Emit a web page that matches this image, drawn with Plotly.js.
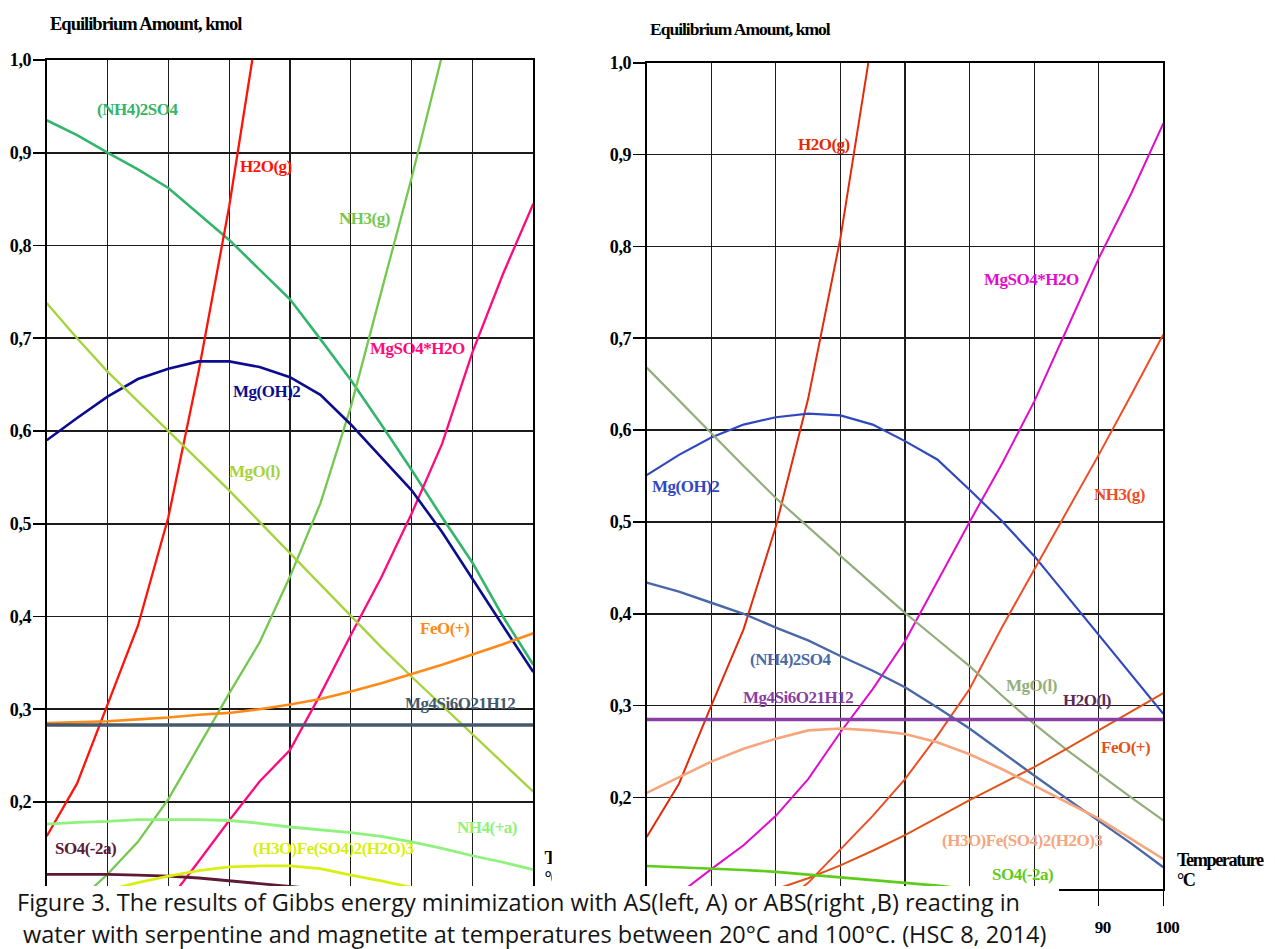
<!DOCTYPE html>
<html>
<head>
<meta charset="utf-8">
<script src="https://cdn.plot.ly/plotly-3.0.1.min.js"></script>
<style>
html, body { margin: 0; padding: 0; background: #ffffff; }
#chart { width: 1275px; height: 949px; }
text[style*="font-size: 17px"] { letter-spacing: -0.5px; }
text[style*="font-size: 18.5px"], text[style*="font-size: 17.5px"] { letter-spacing: -1px; }
text[style*="font-size: 18.2px"] { letter-spacing: -1.4px; }
text[style*="font-size: 18px"] { letter-spacing: -0.4px; }
</style>
</head>
<body>
<div id="chart"></div>
<script>
// ---------------- DATA ----------------
const temperature = [20, 25, 30, 35, 40, 45, 50, 55, 60, 65, 70, 75, 80, 85, 90, 95, 100];
const yTickVals = [0.1, 0.2, 0.3, 0.4, 0.5, 0.6, 0.7, 0.8, 0.9, 1.0];
const yTickText = ["", "0,2", "0,3", "0,4", "0,5", "0,6", "0,7", "0,8", "0,9", "1,0"];
const xTickVals = [20, 30, 40, 50, 60, 70, 80, 90, 100];
const xTickText = ["", "", "", "", "", "", "", "90", "100"];

// Left panel (A: AS)
const aNH42SO4 = [0.935, 0.919, 0.900, 0.882, 0.862, 0.834, 0.806, 0.774, 0.742, 0.699, 0.655, 0.607, 0.558, 0.507, 0.458, 0.400, 0.348];
const aH2Og    = [0.163, 0.220, 0.305, 0.390, 0.507, 0.665, 0.842, 1.050, null, null, null, null, null, null, null, null, null];
const aNH3g    = [0.070, 0.092, 0.122, 0.157, 0.203, 0.260, 0.317, 0.372, 0.443, 0.522, 0.626, 0.750, 0.873, 1.005, null, null, null];
const aMgSO4H2O= [null, null, null, 0.070, 0.093, 0.136, 0.180, 0.222, 0.256, 0.316, 0.380, 0.442, 0.511, 0.586, 0.685, 0.769, 0.845];
const aMgOH2   = [0.590, 0.614, 0.637, 0.656, 0.667, 0.675, 0.675, 0.669, 0.658, 0.639, 0.607, 0.572, 0.536, 0.491, 0.440, 0.390, 0.340];
const aMgO     = [0.738, 0.700, 0.664, 0.632, 0.600, 0.568, 0.536, 0.502, 0.468, 0.434, 0.400, 0.367, 0.335, 0.304, 0.273, 0.242, 0.211];
const aFeO     = [0.285, 0.286, 0.287, 0.289, 0.291, 0.294, 0.296, 0.300, 0.305, 0.311, 0.319, 0.328, 0.338, 0.348, 0.359, 0.370, 0.382];
const aMg4Si   = [0.283, 0.283, 0.283, 0.283, 0.283, 0.283, 0.283, 0.283, 0.283, 0.283, 0.283, 0.283, 0.283, 0.283, 0.283, 0.283, 0.283];
const aNH4     = [0.176, 0.178, 0.179, 0.181, 0.181, 0.181, 0.180, 0.177, 0.173, 0.170, 0.167, 0.163, 0.157, 0.150, 0.142, 0.135, 0.127];
const aSO4     = [0.122, 0.122, 0.122, 0.121, 0.120, 0.118, 0.115, 0.112, 0.109, 0.106, 0.103, 0.100, 0.097, 0.094, 0.090, 0.087, 0.083];
const aH3OFe   = [0.085, 0.095, 0.105, 0.113, 0.120, 0.126, 0.130, 0.131, 0.131, 0.128, 0.121, 0.115, 0.108, 0.100, 0.092, 0.085, 0.078];

// Right panel (B: ABS)
const bH2Og    = [0.157, 0.215, 0.300, 0.383, 0.495, 0.634, 0.809, 1.030, null, null, null, null, null, null, null, null, null];
const bMgSO4H2O= [0.075, 0.095, 0.122, 0.148, 0.180, 0.220, 0.271, 0.318, 0.370, 0.435, 0.500, 0.563, 0.631, 0.709, 0.787, 0.857, 0.934];
const bMgOH2   = [0.551, 0.573, 0.592, 0.606, 0.614, 0.618, 0.616, 0.606, 0.588, 0.568, 0.535, 0.501, 0.463, 0.420, 0.376, 0.333, 0.291];
const bNH3g    = [null, null, null, 0.060, 0.080, 0.107, 0.143, 0.180, 0.220, 0.267, 0.318, 0.385, 0.448, 0.510, 0.573, 0.638, 0.704];
const bNH42SO4 = [0.434, 0.424, 0.412, 0.400, 0.385, 0.371, 0.354, 0.338, 0.320, 0.298, 0.275, 0.249, 0.224, 0.199, 0.175, 0.150, 0.124];
const bMgO     = [0.668, 0.632, 0.597, 0.561, 0.526, 0.494, 0.463, 0.432, 0.401, 0.372, 0.343, 0.311, 0.280, 0.252, 0.226, 0.200, 0.175];
const bFeO     = [null, null, null, 0.085, 0.100, 0.112, 0.126, 0.142, 0.159, 0.178, 0.197, 0.215, 0.233, 0.253, 0.273, 0.293, 0.3135];
const bMg4Si   = [0.2848, 0.2848, 0.2848, 0.2848, 0.2848, 0.2848, 0.2848, 0.2848, 0.2848, 0.2848, 0.2848, 0.2848, 0.2848, 0.2848, 0.2848, 0.2848, 0.2848];
const bH3OFe   = [0.205, 0.222, 0.239, 0.253, 0.264, 0.273, 0.275, 0.273, 0.269, 0.260, 0.247, 0.231, 0.213, 0.195, 0.177, 0.155, 0.133];
const bSO4     = [0.1254, 0.124, 0.123, 0.121, 0.119, 0.116, 0.1135, 0.110, 0.107, 0.104, 0.100, 0.097, 0.093, 0.090, 0.087, 0.084, 0.080];

const yTitle = "Equilibrium Amount, kmol";
const xTitle = "Temperature";
const xUnit = "°C";
const captionLine1 = "Figure 3. The results of Gibbs energy minimization with AS(left, A) or ABS(right ,B) reacting in";
const captionLine2 = " water with serpentine and magnetite at temperatures between 20°C and 100°C. (HSC 8, 2014)";

// ---------------- STYLE ----------------
const W = 1275, H = 949;
const px = v => v / W;
const py = v => 1 - v / H;
const serif = "Liberation Serif, Times New Roman, serif";

// [name, values, color, width, panel, label left px, label center py]
const series = [
  ["(NH4)2SO4", aNH42SO4, "#33b56c", 2.6, "A", 97, 109],
  ["H2O(g)", aH2Og, "#ff1208", 2.3, "A", 240, 166.7],
  ["NH3(g)", aNH3g, "#74c850", 2.3, "A", 339, 218.3],
  ["MgSO4*H2O", aMgSO4H2O, "#ff0a7c", 2.3, "A", 370, 348.3],
  ["Mg(OH)2", aMgOH2, "#0c0c8e", 2.6, "A", 233, 391.7],
  ["MgO(l)", aMgO, "#a6d23c", 2.3, "A", 229, 471.7],
  ["FeO(+)", aFeO, "#ff8a18", 2.6, "A", 420, 628.3],
  ["Mg4Si6O21H12", aMg4Si, "#44596c", 3.4, "A", 405, 703.8],
  ["NH4(+a)", aNH4, "#8ef27c", 2.8, "A", 457, 827.5],
  ["SO4(-2a)", aSO4, "#5c1a34", 2.8, "A", 55, 848.3],
  ["(H3O)Fe(SO4)2(H2O)3", aH3OFe, "#d8f010", 2.8, "A", 253, 848.3],

  ["H2O(g)", bH2Og, "#e42a08", 2.0, "B", 798, 144.2],
  ["MgSO4*H2O", bMgSO4H2O, "#e20ccc", 2.0, "B", 983.5, 280],
  ["Mg(OH)2", bMgOH2, "#2f48c0", 2.2, "B", 652.2, 486.7],
  ["NH3(g)", bNH3g, "#f04c26", 2.0, "B", 1094.4, 495],
  ["(NH4)2SO4", bNH42SO4, "#4a68a8", 2.4, "B", 750.2, 659.2],
  ["MgO(l)", bMgO, "#93ae7c", 2.2, "B", 1005.7, 685],
  ["FeO(+)", bFeO, "#e0541a", 2.0, "B", 1100.5, 747.5],
  ["Mg4Si6O21H12", bMg4Si, "#8a40a2", 3.4, "B", 743.3, 697.5],
  ["(H3O)Fe(SO4)2(H2O)3", bH3OFe, "#f5a67c", 2.6, "B", 941.7, 840.8],
  ["SO4(-2a)", bSO4, "#5ecc1a", 2.6, "B", 991.5, 874.2]
];
const extraLabels = [["H2O(l)", "#5a2a5a", 1063.2, 700.8]];

const traces = series.map(s => ({
  type: "scatter", mode: "lines", name: s[0] + " " + s[4],
  x: temperature, y: s[1],
  xaxis: s[4] === "A" ? "x" : "x2", yaxis: s[4] === "A" ? "y" : "y2",
  line: { color: s[2], width: s[3] },
  connectgaps: false, hoverinfo: "skip", cliponaxis: true
}));

// left-panel temperature label, clipped where the right picture overlaps it
traces.push({
  type: "scatter", mode: "text", xaxis: "x3", yaxis: "y3",
  x: [544.5, 544.5], y: [859.5, 879.5], text: [xTitle, xUnit],
  textposition: "middle right", cliponaxis: true, hoverinfo: "skip",
  textfont: { family: serif, size: 18.2, color: "#000", weight: 700 }
});

const annotations = [];
series.forEach(s => annotations.push({
  xref: "paper", yref: "paper", x: px(s[5] - 2), y: py(s[6]),
  xanchor: "left", yanchor: "middle", showarrow: false, text: s[0],
  font: { family: serif, size: 17, color: s[2], weight: 700 }
}));
extraLabels.forEach(l => annotations.push({
  xref: "paper", yref: "paper", x: px(l[2] - 2), y: py(l[3]),
  xanchor: "left", yanchor: "middle", showarrow: false, text: l[0],
  font: { family: serif, size: 17, color: l[1], weight: 700 }
}));
annotations.push(
  { xref: "paper", yref: "paper", x: px(48), y: py(24), xanchor: "left", yanchor: "middle", showarrow: false,
    text: yTitle, font: { family: serif, size: 18.5, color: "#000", weight: 700 } },
  { xref: "paper", yref: "paper", x: px(648), y: py(29.5), xanchor: "left", yanchor: "middle", showarrow: false,
    text: yTitle, font: { family: serif, size: 17.5, color: "#000", weight: 700 } },
  { xref: "paper", yref: "paper", x: px(1174.5), y: py(859.5), xanchor: "left", yanchor: "middle", showarrow: false,
    text: xTitle, font: { family: serif, size: 18.2, color: "#000", weight: 700 } },
  { xref: "paper", yref: "paper", x: px(1174.5), y: py(879.5), xanchor: "left", yanchor: "middle", showarrow: false,
    text: xUnit, font: { family: serif, size: 18.2, color: "#000", weight: 700 } },
  { xref: "paper", yref: "paper", x: px(15), y: py(902), xanchor: "left", yanchor: "middle", showarrow: false,
    text: captionLine1, font: { family: "Open Sans, Noto Sans, sans-serif", size: 23.5, color: "#141414" } },
  { xref: "paper", yref: "paper", x: px(15), y: py(934), xanchor: "left", yanchor: "middle", showarrow: false,
    text: captionLine2, font: { family: "Open Sans, Noto Sans, sans-serif", size: 23.5, color: "#141414" } }
);

function xAxis(domain, anchor, showLabels) {
  return {
    domain: domain, range: [20, 100], anchor: anchor, autorange: false,
    tickmode: "array", tickvals: xTickVals, ticktext: xTickText, showticklabels: showLabels,
    showgrid: true, gridcolor: "#1c1c1c", gridwidth: 1.2, zeroline: false,
    showline: true, linecolor: "#000", linewidth: 2, mirror: true,
    ticks: "outside", ticklen: 15, tickwidth: 1.5, tickcolor: "#000",
    tickfont: { family: serif, size: 17, color: "#000", weight: 700 },
    ticklabelstandoff: 6, ticklabelshift: 4, fixedrange: true
  };
}
function yAxis(domain, anchor) {
  return {
    domain: domain, range: [0.1, 1.0], anchor: anchor, autorange: false,
    tickmode: "array", tickvals: yTickVals, ticktext: yTickText,
    showgrid: true, gridcolor: "#1c1c1c", gridwidth: 1.7, zeroline: false,
    showline: true, linecolor: "#000", linewidth: 2, mirror: true,
    ticks: "outside", ticklen: 12, tickwidth: 1.6, tickcolor: "#000",
    tickfont: { family: serif, size: 18, color: "#000", weight: 700 },
    ticklabelstandoff: -2, fixedrange: true
  };
}

const layout = {
  width: W, height: H, autosize: false,
  margin: { l: 0, r: 0, t: 0, b: 0, pad: 0 },
  paper_bgcolor: "#ffffff", plot_bgcolor: "rgba(0,0,0,0)",
  showlegend: false,
  font: { family: serif, color: "#000" },
  xaxis: xAxis([px(46.7), px(533.3)], "y", false),
  yaxis: yAxis([py(894.7), py(60)], "x"),
  xaxis2: xAxis([px(646.7), px(1163.3)], "y2", true),
  yaxis2: yAxis([py(889.3), py(62.7)], "x2"),
  xaxis3: { domain: [0, px(551.7)], range: [0, 551.7], anchor: "y3", visible: false, fixedrange: true },
  yaxis3: { domain: [0, 1], range: [949, 0], anchor: "x3", visible: false, fixedrange: true },
  shapes: [
    { type: "rect", xref: "paper", yref: "paper", layer: "above",
      x0: px(18), x1: px(1059), y0: 0, y1: py(886),
      fillcolor: "#ffffff", line: { width: 0 } }
  ],
  annotations: annotations
};

Plotly.newPlot("chart", traces, layout, { staticPlot: true, displayModeBar: false });
</script>
</body>
</html>
